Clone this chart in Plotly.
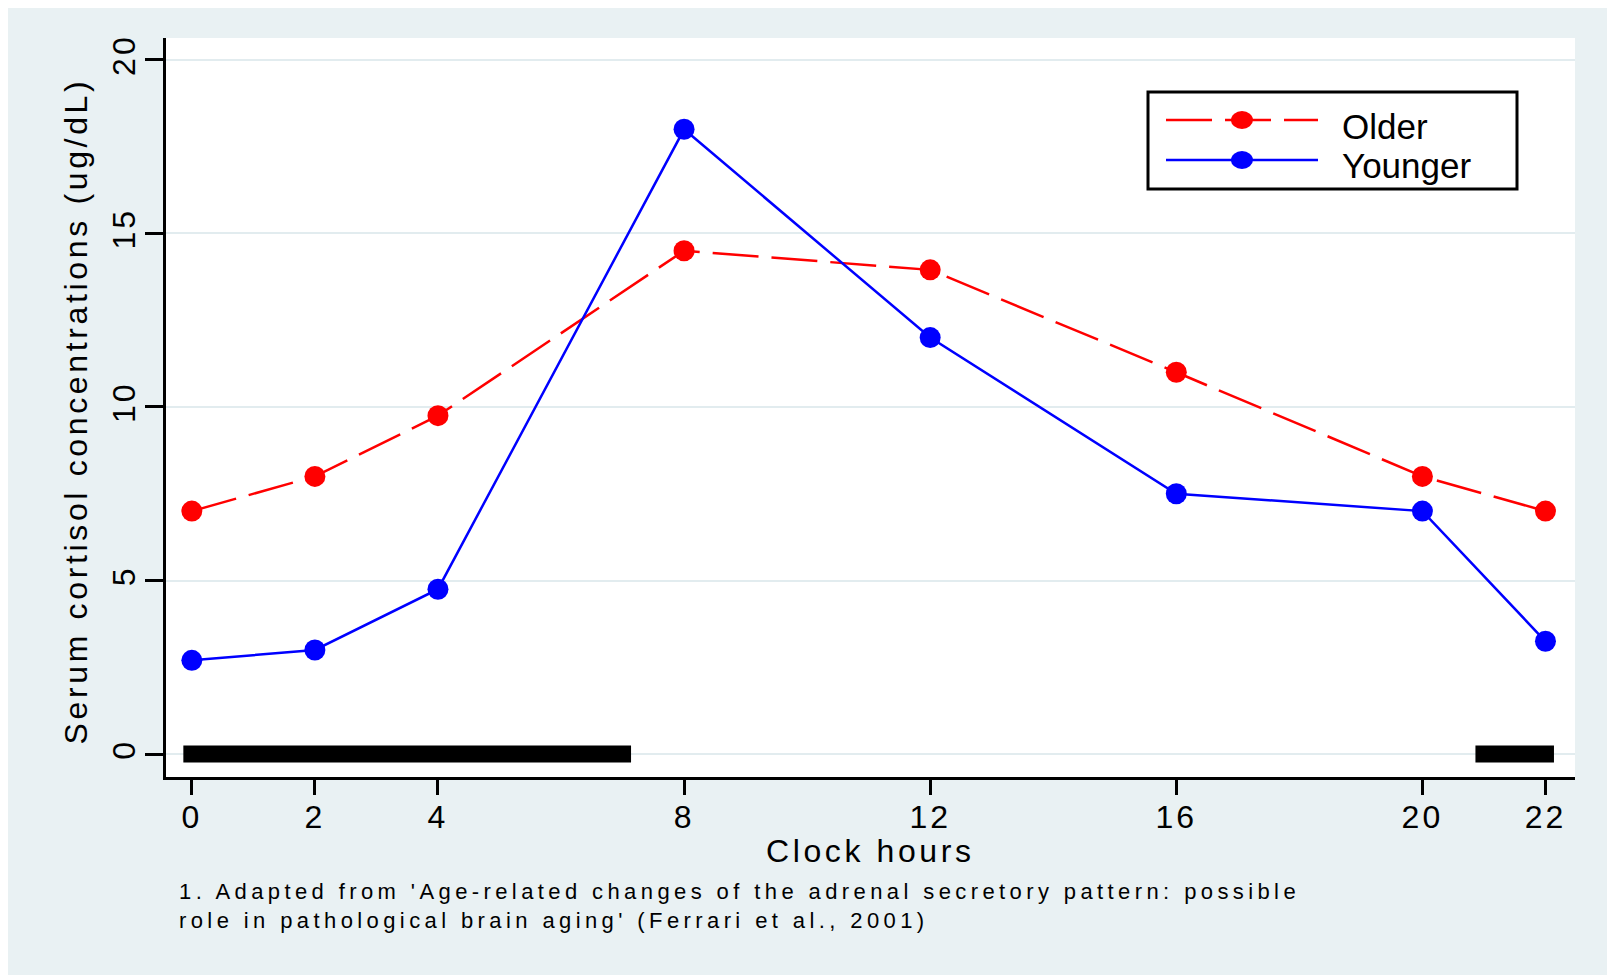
import plotly.graph_objects as go

# ---- data ----
hours = [0, 2, 4, 8, 12, 16, 20, 22]
older = [7.0, 8.0, 9.75, 14.5, 13.95, 11.0, 8.0, 7.0]
younger = [2.7, 3.0, 4.75, 18.0, 12.0, 7.5, 7.0, 3.25]
night_start = [0, 21]
night_end = [7, 22]
x_ticks = [0, 2, 4, 8, 12, 16, 20, 22]
y_ticks = [0, 5, 10, 15, 20]

series_names = ["Older", "Younger"]
x_title = "Clock hours"
y_title = "Serum cortisol concentrations (ug/dL)"
note_lines = [
    "1. Adapted from 'Age-related changes of the adrenal secretory pattern: possible",
    "role in pathological brain aging' (Ferrari et al., 2001)",
]

# ---- style / layout constants ----
OFF = 8                      # default page body margin
W, H = 1615 - OFF, 975 - OFF
ML, MR, MT, MB = 158, 40, 30, 198
X_RANGE = [-0.42, 22.48]
Y_RANGE = [-0.66, 20.63]
BG = "#E9F1F3"
GRID = "#E2ECEF"
FONT = "Liberation Sans, Arial, sans-serif"
BAR_W = 17
RED, BLUE = "#FF0000", "#0000FF"
DASH = "46px,13px"

plot_w = W - ML - MR
plot_h = H - MT - MB
px_per_hour = plot_w / (X_RANGE[1] - X_RANGE[0])
cap = (BAR_W / 2) / px_per_hour  # emulate square line caps


def px(x):  # page pixel -> paper x
    return (x - OFF - ML) / plot_w


def py(y):  # page pixel -> paper y
    return (H - MB - (y - OFF)) / plot_h


def spaced(text, s):
    return f'<span style="letter-spacing:{s}px">{text}</span>'


fig = go.Figure()

# night bars
bx, by = [], []
for s, e in zip(night_start, night_end):
    bx += [s - cap, e + cap, None]
    by += [0, 0, None]
fig.add_trace(go.Scatter(x=bx, y=by, mode="lines",
                         line=dict(color="black", width=BAR_W),
                         showlegend=False, hoverinfo="skip"))

fig.add_trace(go.Scatter(x=hours, y=older, mode="lines+markers", name=series_names[0],
                         line=dict(color=RED, width=2.5, dash=DASH),
                         marker=dict(color=RED, size=21), showlegend=False))
fig.add_trace(go.Scatter(x=hours, y=younger, mode="lines+markers", name=series_names[1],
                         line=dict(color=BLUE, width=2.5),
                         marker=dict(color=BLUE, size=21), showlegend=False))

# ---- legend drawn as shapes + annotations (Stata-style long keys) ----
legend_rows = [(series_names[0], RED, DASH, 120), (series_names[1], BLUE, "solid", 160)]
shapes = [dict(type="rect", xref="paper", yref="paper", x0=px(1148), x1=px(1517),
               y0=py(189), y1=py(92), fillcolor="white",
               line=dict(color="black", width=3))]
annotations = []
for name, col, dash, yc in legend_rows:
    shapes.append(dict(type="line", xref="paper", yref="paper", x0=px(1166), x1=px(1318),
                       y0=py(yc), y1=py(yc), line=dict(color=col, width=2.5, dash=dash)))
    shapes.append(dict(type="circle", xref="paper", yref="paper",
                       xsizemode="pixel", ysizemode="pixel",
                       xanchor=px(1242), yanchor=py(yc),
                       x0=-11, x1=11, y0=-9, y1=9, fillcolor=col, line=dict(width=0)))
    annotations.append(dict(text=name, xref="paper", yref="paper", x=px(1340), y=py(yc + 6),
                            xanchor="left", yanchor="middle", showarrow=False,
                            font=dict(size=35)))

annotations += [
    dict(text=spaced(x_title, 3.6), xref="paper", yref="paper", x=0.5, y=0,
         xanchor="center", yanchor="middle", yshift=-74, showarrow=False,
         font=dict(size=32)),
    dict(text=spaced(y_title, 3.65), xref="paper", yref="paper", x=0, y=0.5,
         xanchor="center", yanchor="middle", xshift=-91, yshift=-4,
         textangle=-90, showarrow=False, font=dict(size=32)),
    dict(text=spaced("<br>".join(note_lines), 4.4), xref="paper", yref="paper",
         x=px(177), y=0, xanchor="left", yanchor="top", align="left",
         yshift=-100, showarrow=False, font=dict(size=22)),
]

fig.update_layout(
    width=W, height=H,
    margin=dict(l=ML, r=MR, t=MT, b=MB, autoexpand=False),
    paper_bgcolor=BG, plot_bgcolor="white",
    font=dict(family=FONT, color="black", size=32),
    showlegend=False,
    xaxis=dict(range=X_RANGE, tickvals=x_ticks,
               ticktext=[spaced(str(t), 3) for t in x_ticks],
               ticks="outside", ticklen=15,
               tickwidth=2.5, tickcolor="black", showline=True, linewidth=3,
               linecolor="black", showgrid=False, zeroline=False,
               tickfont=dict(size=32), ticklabelstandoff=-5),
    yaxis=dict(range=Y_RANGE, tickvals=y_ticks,
               ticktext=[spaced(str(t), 3) for t in y_ticks],
               ticks="outside", ticklen=18,
               tickwidth=2.5, tickcolor="black", showline=True, linewidth=3,
               linecolor="black", showgrid=True, gridcolor=GRID, gridwidth=2,
               zeroline=False, tickangle=-90, tickfont=dict(size=32),
               ticklabelstandoff=-3),
    shapes=shapes,
    annotations=annotations,
)

fig.write_html("out.html")
